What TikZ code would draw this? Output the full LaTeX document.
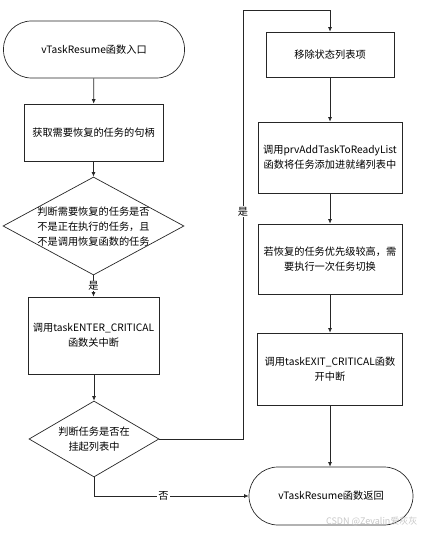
\documentclass[tikz,border=0pt]{standalone}
\usepackage{fontspec}
\setmainfont{Noto Sans CJK SC}
\usetikzlibrary{shapes.geometric,arrows.meta}
\begin{document}
\begin{tikzpicture}[x=1pt,y=-1pt,
  every node/.style={font=\fontsize{10.2}{15}\selectfont},
  line/.style={draw=black!85,line width=0.7pt},
  arr/.style={line,-{Latex[length=4.5pt,width=4pt]}},
  term/.style={line,rounded corners=#1,align=center},
  proc/.style={line,rectangle,align=center,inner sep=0pt},
  dia/.style={line,diamond,inner sep=0pt},
  lbl/.style={fill=white,inner sep=1pt}]
\useasboundingbox (0,0) rectangle (421,534);
% left column
\node[term=28pt,minimum width=181pt,minimum height=57pt] (s) at (94,49.5) {vTaskResume函数入口};
\node[proc,minimum width=139pt,minimum height=57pt] (b1) at (93.5,132.5) {获取需要恢复的任务的句柄};
\node[dia,minimum width=181pt,minimum height=98pt] (d1) at (93.5,226) {};
\node[align=center] (d1t) at (93.5,227) {判断需要恢复的任务是否\\不是正在执行的任务，且\\不是调用恢复函数的任务};
\node[proc,minimum width=131pt,minimum height=77pt] (b2) at (93.5,335.5) {调用taskENTER\_CRITICAL\\函数关中断};
\node[dia,minimum width=130pt,minimum height=76pt] (d2) at (94,439) {};
\node[align=center] (d2t) at (94,439) {判断任务是否在\\挂起列表中};
% right column
\node[proc,minimum width=128pt,minimum height=45pt] (b3) at (330,54.5) {移除状态列表项};
\node[proc,minimum width=144pt,minimum height=71pt] (b4) at (330,157.5) {调用prvAddTaskToReadyList\\函数将任务添加进就绪列表中};
\node[proc,minimum width=144pt,minimum height=70pt] (b5) at (330,259) {若恢复的任务优先级较高，需\\要执行一次任务切换};
\node[proc,minimum width=145pt,minimum height=72pt] (b6) at (330,369) {调用taskEXIT\_CRITICAL函数\\开中断};
\node[term=29pt,minimum width=164pt,minimum height=58pt] (e) at (331,496) {vTaskResume函数返回};
\coordinate (c1) at (243,10);
\coordinate (c2) at (94,496);
% connectors
\draw[arr] (s) -- (b1);
\draw[arr] (b1) -- (d1.north);
\draw[arr] (d1.south) -- node[lbl] {是} (b2.north);
\draw[arr] (b2.south -| d2.north) -- (d2.north);
\draw[arr] (d2.east) -- (d2.east -| c1) -- node[lbl,pos=0.53] {是} (c1) -| (b3.north);
\draw[arr] (d2.south) -- (c2) -- node[lbl,pos=0.45] {否} (e.west);
\draw[arr] (b3) -- (b4);
\draw[arr] (b4) -- (b5);
\draw[arr] (b5) -- (b6);
\draw[arr] (b6.south) -- (b6.south |- e.north);
\node[text=black!22,font=\fontsize{9}{10}\selectfont,anchor=east] (wm) at (421,521) {CSDN @Zevalin爱灰灰};
\end{tikzpicture}
\end{document}
